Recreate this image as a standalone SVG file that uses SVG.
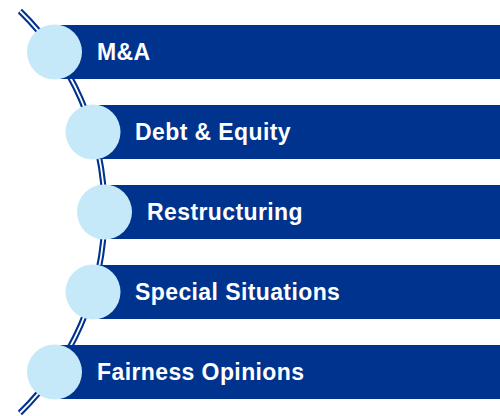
<svg xmlns="http://www.w3.org/2000/svg" width="500" height="416" viewBox="0 0 500 416">
  <style>
    .bar { fill: #00338D; }
    .dot { fill: #C6E9FA; }
    .lbl { fill: #FFFFFF; font-family: "Liberation Sans", Arial, sans-serif; font-weight: bold; font-size: 23px; letter-spacing: 0.4px; }
    .rail { fill: none; stroke: #00338D; stroke-width: 6; }
    .rail-in { fill: none; stroke: #FFFFFF; stroke-width: 1.8; }
  </style>
  <rect width="500" height="416" fill="#FFFFFF"/>
  <g id="connectors">
    <path class="rail" d="M 19.9 11 A 281 281 0 0 1 19.9 413"/>
    <path class="rail-in" d="M 19.9 11 A 281 281 0 0 1 19.9 413"/>
  </g>
  <g id="node-ma">
    <rect class="bar" x="54.5" y="25" width="445.5" height="54"/>
    <circle class="dot" cx="54.5" cy="52" r="27.5"/>
    <text class="lbl" x="97" y="60">M&amp;A</text>
  </g>
  <g id="node-debt">
    <rect class="bar" x="93" y="105" width="407" height="54"/>
    <circle class="dot" cx="93" cy="132" r="27.5"/>
    <text class="lbl" x="135" y="140">Debt &amp; Equity</text>
  </g>
  <g id="node-restructuring">
    <rect class="bar" x="104.5" y="185" width="395.5" height="54"/>
    <circle class="dot" cx="104.5" cy="212" r="27.5"/>
    <text class="lbl" x="147" y="220">Restructuring</text>
  </g>
  <g id="node-special">
    <rect class="bar" x="93" y="265" width="407" height="54"/>
    <circle class="dot" cx="93" cy="292" r="27.5"/>
    <text class="lbl" x="135" y="300">Special Situations</text>
  </g>
  <g id="node-fairness">
    <rect class="bar" x="54.5" y="345" width="445.5" height="54"/>
    <circle class="dot" cx="54.5" cy="372" r="27.5"/>
    <text class="lbl" x="97" y="380">Fairness Opinions</text>
  </g>
</svg>
